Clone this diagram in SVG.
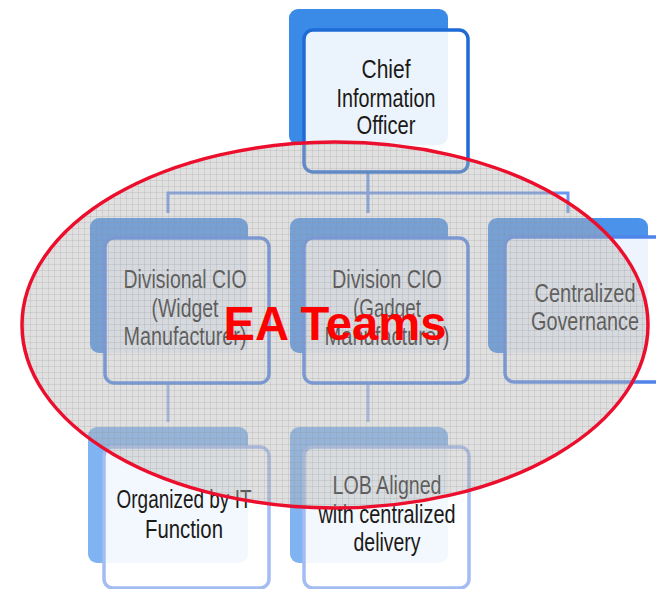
<svg xmlns="http://www.w3.org/2000/svg" width="656" height="589" viewBox="0 0 656 589">
<defs>
<pattern id="grid" width="6" height="6" patternUnits="userSpaceOnUse">
<rect width="6" height="6" fill="#b4b4b4" fill-opacity="0.42"/>
<path d="M0 0.5H6M0.5 0V6" stroke="#8a8a8a" stroke-opacity="0.18" stroke-width="1"/>
</pattern>
</defs>
<style>
.t{font-family:"Liberation Sans",Arial,sans-serif;font-size:26px;fill:#1c1a18;text-anchor:middle}
.b1{fill:#3a8ae8}
.f1{fill:#fff;fill-opacity:0.9;stroke:#1f6bd6;stroke-width:3.5}
.b2{fill:#4a92ea}
.f2{fill:#fff;fill-opacity:0.9;stroke:#4f84ea;stroke-width:3.5}
.b3{fill:#7fb3f2}
.f3{fill:#fff;fill-opacity:0.9;stroke:#a3bcf2;stroke-width:3.5}
.c1{fill:none;stroke:#6b98f0;stroke-width:3}
.c2{fill:none;stroke:#9db8f2;stroke-width:3}
</style>
<g id="connectors">
<path class="c1" d="M368 172V193M168 213V193H568V213M368 193V213"/>
<path class="c2" d="M168 383V422M368 383V422"/>
</g>
<g id="cio">
<rect class="b1" x="289" y="9" width="159" height="136" rx="9"/>
<rect class="f1" x="304" y="30" width="164" height="142" rx="9"/>
<text class="t" x="386" y="78" textLength="49" lengthAdjust="spacingAndGlyphs">Chief</text>
<text class="t" x="386" y="107" textLength="99" lengthAdjust="spacingAndGlyphs">Information</text>
<text class="t" x="386" y="134" textLength="59" lengthAdjust="spacingAndGlyphs">Officer</text>
</g>
<g id="widget">
<rect class="b2" x="90" y="218" width="158" height="135" rx="9"/>
<rect class="f2" x="105" y="238" width="164" height="145" rx="9"/>
<text class="t" x="185" y="288" textLength="123" lengthAdjust="spacingAndGlyphs">Divisional CIO</text>
<text class="t" x="185" y="317" textLength="67" lengthAdjust="spacingAndGlyphs">(Widget</text>
<text class="t" x="185" y="345" textLength="123" lengthAdjust="spacingAndGlyphs">Manufacturer)</text>
</g>
<g id="gadget">
<rect class="b2" x="290" y="218" width="158" height="135" rx="9"/>
<rect class="f2" x="304" y="238" width="164" height="145" rx="9"/>
<text class="t" x="387" y="288" textLength="110" lengthAdjust="spacingAndGlyphs">Division CIO</text>
<text class="t" x="387" y="317" textLength="68" lengthAdjust="spacingAndGlyphs">(Gadget</text>
<text class="t" x="387" y="345" textLength="125" lengthAdjust="spacingAndGlyphs">Manufacturer)</text>
</g>
<g id="governance">
<rect class="b2" x="488" y="218" width="160" height="135" rx="9"/>
<rect class="f2" x="505" y="237" width="170" height="145" rx="9"/>
<text class="t" x="585" y="302" textLength="101" lengthAdjust="spacingAndGlyphs">Centralized</text>
<text class="t" x="585" y="330" textLength="108" lengthAdjust="spacingAndGlyphs">Governance</text>
</g>
<g id="itfunction">
<rect class="b3" x="88" y="427" width="160" height="136" rx="9"/>
<rect class="f3" x="104" y="447" width="165" height="141" rx="9"/>
<text class="t" x="184" y="508" textLength="135" lengthAdjust="spacingAndGlyphs">Organized by IT</text>
<text class="t" x="184" y="538" textLength="78" lengthAdjust="spacingAndGlyphs">Function</text>
</g>
<g id="lob">
<rect class="b3" x="290" y="427" width="158" height="136" rx="9"/>
<rect class="f3" x="304" y="447" width="165" height="141" rx="9"/>
<text class="t" x="387" y="494" textLength="109" lengthAdjust="spacingAndGlyphs">LOB Aligned</text>
<text class="t" x="387" y="523" textLength="137" lengthAdjust="spacingAndGlyphs">with centralized</text>
<text class="t" x="387" y="551" textLength="67" lengthAdjust="spacingAndGlyphs">delivery</text>
</g>
<g id="ea-teams">
<ellipse cx="335" cy="325" rx="313" ry="183" fill="url(#grid)" stroke="#ec0f2d" stroke-width="3.5"/>
<text x="335" y="340" font-family="'Liberation Sans',Arial,sans-serif" font-size="48" font-weight="bold" fill="#ff0000" text-anchor="middle" textLength="223" lengthAdjust="spacingAndGlyphs">EA Teams</text>
</g>
</svg>
